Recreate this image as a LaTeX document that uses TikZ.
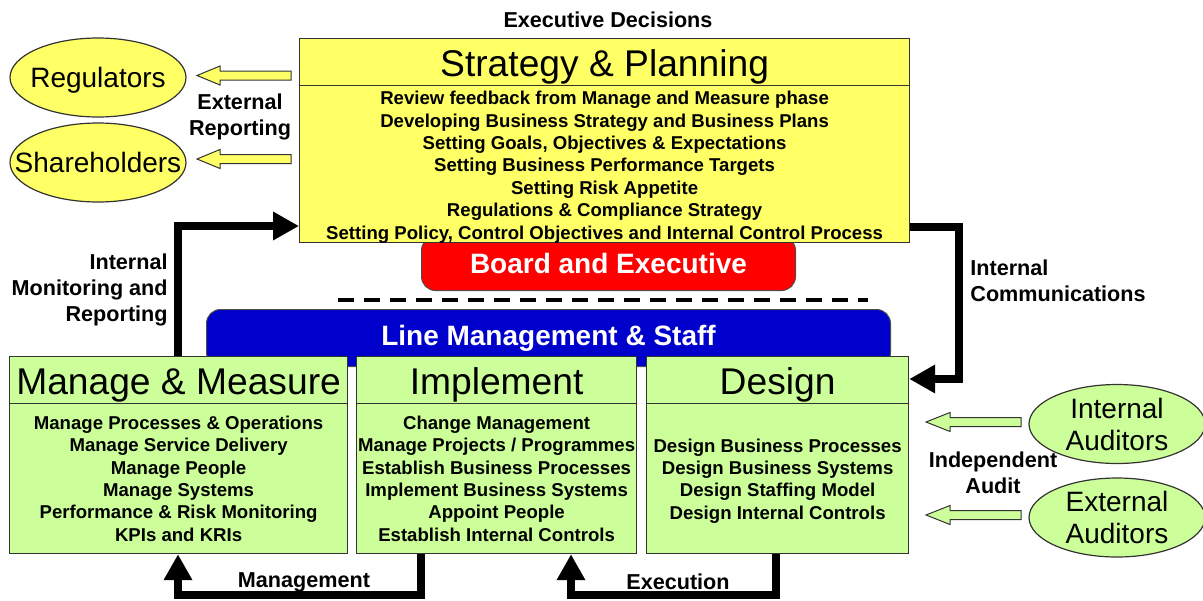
\documentclass[tikz,border=0pt]{standalone}
\usepackage{fontspec}
\setmainfont{Liberation Sans}
\usetikzlibrary{arrows.meta,shapes.geometric}
\definecolor{ylw}{HTML}{FFFF66}
\definecolor{grn}{HTML}{CCFF99}
\definecolor{rd}{HTML}{FF0000}
\definecolor{blu}{HTML}{0000CC}
\begin{document}
\begin{tikzpicture}[x=0.5pt,y=-0.5pt,
 box/.style={draw=black!80, line width=0.6pt, inner sep=0pt, anchor=north west},
 headbox/.style={box, font=\fontsize{18.6}{20}\selectfont, text height=16pt, text depth=1.2pt},
 bodyfont/.style={align=center, inner sep=0pt, font=\bfseries\fontsize{9.3}{11.2}\selectfont},
 bodybox/.style={box, bodyfont},
 lbl/.style={font=\bfseries\fontsize{10.8}{12.8}\selectfont, inner sep=0pt},
 flow/.style={line width=3.8pt, -{Triangle[length=13pt,width=13.5pt]}},
 oval/.style={ellipse, draw=black!80, line width=0.6pt, minimum width=88pt, minimum height=39.5pt, inner sep=0pt},
 ovaltext/.style={font=\fontsize{14}{16}\selectfont, align=center, inner sep=0pt},
 hollowar/.style={draw=black!80, line width=0.5pt},
 band/.style={draw=black!70, line width=0.5pt, rounded corners=7pt, inner sep=0pt, text=white, font=\bfseries\fontsize{14}{16}\selectfont, anchor=north west}
]
\useasboundingbox (0,0) rectangle (1203,600);

% Board and Executive band (behind strategy box)
\node[band, fill=rd, minimum width=187pt, minimum height=27pt] (board) at (421,236) {Board and Executive};

% Strategy & Planning
\node[headbox, fill=ylw, minimum width=305pt, minimum height=23.5pt] (sph) at (299,38) {Strategy \& Planning};
\node[box, fill=ylw, minimum width=305pt, minimum height=78.5pt,
  label={[bodyfont, yshift=-1.5pt]center:Review feedback from Manage and Measure phase\\Developing Business Strategy and Business Plans\\Setting Goals, Objectives \& Expectations\\Setting Business Performance Targets\\Setting Risk Appetite\\Regulations \& Compliance Strategy\\Setting Policy, Control Objectives and Internal Control Process}] (sp) at (299,85) {};

\node[lbl] (exec) at (608,20) {Executive Decisions};

% dashed separator
\coordinate (dsa) at (338,300);
\coordinate (dsb) at (868,300);
\draw[line width=2pt, dash pattern=on 8pt off 5pt] (dsa) -- (dsb);

% Line Management band
\node[band, fill=blu, minimum width=342pt, minimum height=28.5pt] (line) at (206,309) {Line Management \& Staff};

% Green boxes
\node[headbox, fill=grn, minimum width=169pt, minimum height=23.5pt] (mmh) at (9,356) {Manage \& Measure};
\node[bodybox, fill=grn, minimum width=169pt, minimum height=75pt] (mmb) at (9,403) {Manage Processes \& Operations\\Manage Service Delivery\\Manage People\\Manage Systems\\Performance \& Risk Monitoring\\KPIs and KRIs};
\node[headbox, fill=grn, minimum width=140pt, minimum height=23.5pt] (imh) at (356,356) {Implement};
\node[bodybox, fill=grn, minimum width=140pt, minimum height=75pt] (imb) at (356,403) {Change Management\\Manage Projects / Programmes\\Establish Business Processes\\Implement Business Systems\\Appoint People\\Establish Internal Controls};
\node[headbox, fill=grn, minimum width=131pt, minimum height=23.5pt] (dsh) at (646,356) {Design};
\node[box, fill=grn, minimum width=131pt, minimum height=75pt,
  label={[bodyfont, yshift=-1.2pt]center:Design Business Processes\\Design Business Systems\\Design Staffing Model\\Design Internal Controls}] (dsb2) at (646,403) {};

% Ellipses
\node[oval, fill=ylw, label={[ovaltext, yshift=-1.4pt]center:Regulators}] (reg) at (98,77.5) {};
\node[oval, fill=ylw, label={[ovaltext]center:Shareholders}] (sha) at (98,162.5) {};
\node[oval, fill=grn, label={[ovaltext]center:Internal\\Auditors}] (ia) at (1117,424) {};
\node[oval, fill=grn, label={[ovaltext]center:External\\Auditors}] (ea) at (1117,517.5) {};

% Hollow arrows
\coordinate (t1) at (197,75.5);
\coordinate (t2) at (197,159);
\coordinate (t3) at (926,422);
\coordinate (t4) at (926,515);
\draw[hollowar, fill=ylw] (t1) -- ++(23,-9.5) -- ++(0,5) -- ++(71,0) -- ++(0,9) -- ++(-71,0) -- ++(0,5) -- cycle;
\draw[hollowar, fill=ylw] (t2) -- ++(23,-9.5) -- ++(0,5) -- ++(71,0) -- ++(0,9) -- ++(-71,0) -- ++(0,5) -- cycle;
\draw[hollowar, fill=grn] (t3) -- ++(24,-9.5) -- ++(0,5) -- ++(71,0) -- ++(0,9) -- ++(-71,0) -- ++(0,5) -- cycle;
\draw[hollowar, fill=grn] (t4) -- ++(24,-9.5) -- ++(0,5) -- ++(71,0) -- ++(0,9) -- ++(-71,0) -- ++(0,5) -- cycle;

% Thick flow connectors
\coordinate (mon) at (178,226);
\draw[flow] (mmh.north -| mon) -- (mon) -- (sp.west |- mon);
\coordinate (com1) at (959,227);
\coordinate (com2) at (959,379);
\draw[flow] (sp.east |- com1) -- (com1) -- (com2) -- (dsh.east |- com2);
\coordinate (m1) at (421,595);
\coordinate (m2) at (178,595);
\draw[flow] (imb.south -| m1) -- (m1) -- (m2) -- (mmb.south -| m2);
\coordinate (e1) at (776,595);
\coordinate (e2) at (571,595);
\draw[flow] (dsb2.south -| e1) -- (e1) -- (e2) -- (imb.south -| e2);

% Labels
\node[lbl, align=center] (extrep) at (240,117) {External\\Reporting};
\node[lbl, align=right, anchor=east] (intmon) at (168,290) {Internal\\Monitoring and\\Reporting};
\node[lbl, align=left, anchor=west] (intcom) at (970,281) {Internal\\Communications};
\node[lbl, align=center] (indaud) at (993,473) {Independent\\Audit};
\node[lbl] (mgmt) at (304,582) {Management};
\node[lbl] (exe) at (678,582) {Execution};
\end{tikzpicture}
\end{document}
